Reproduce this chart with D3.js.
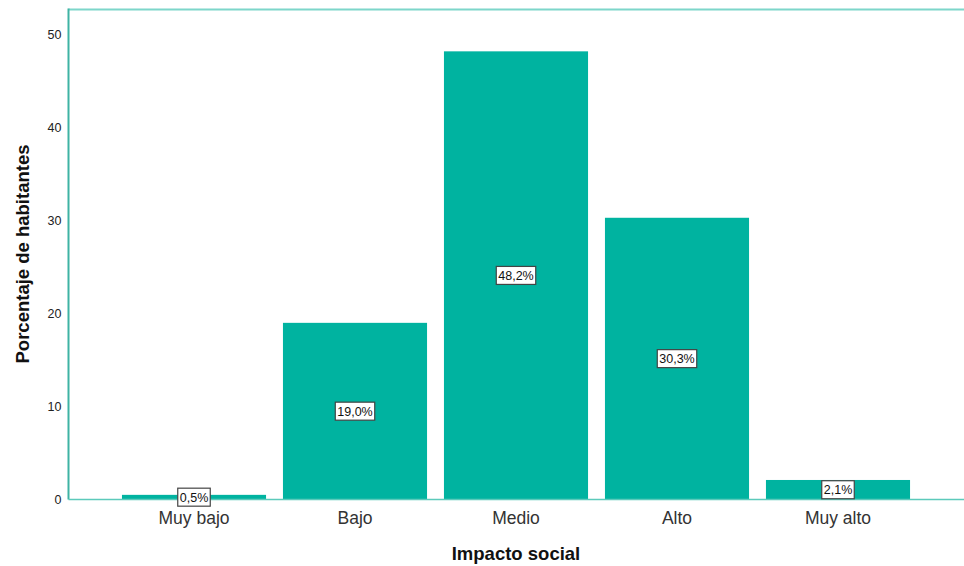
<!DOCTYPE html>
<html><head><meta charset="utf-8">
<script src="https://cdn.jsdelivr.net/npm/d3@7"></script>
<style>body{margin:0;background:#fff}svg{display:block}</style>
</head><body>
<svg id="c" width="964" height="566"></svg>
<script>
const categories = ["Muy bajo","Bajo","Medio","Alto","Muy alto"];
const values = [0.5, 19.0, 48.2, 30.3, 2.1];
const labels = ["0,5%","19,0%","48,2%","30,3%","2,1%"];
const yTicks = [0,10,20,30,40,50];

(function(){
const svg = d3.select("#c");
const pLeft = 68.5, pRight = 964, pTop = 9.5, pBottom = 499.5;
const y = d3.scaleLinear().domain([0, 52.7]).range([pBottom, pTop]);
const x = d3.scaleBand().domain(categories).range([113.5, 918.5]).paddingInner(0.105).paddingOuter(0.0525);
const teal = "#00b3a0";
const font = "Liberation Sans, Arial, sans-serif";

// bars
svg.selectAll("rect.bar").data(values).join("rect")
  .attr("class","bar")
  .attr("x",(d,i)=>x(categories[i]))
  .attr("width",x.bandwidth())
  .attr("y",d=>y(d))
  .attr("height",d=>pBottom-y(d))
  .attr("fill",teal);

// frame lines
svg.append("line").attr("x1",pLeft).attr("x2",pRight).attr("y1",pTop).attr("y2",pTop)
  .attr("stroke","#7dd6ca").attr("stroke-width",2);
svg.append("line").attr("x1",pLeft).attr("x2",pLeft).attr("y1",pTop-1).attr("y2",pBottom)
  .attr("stroke","#3fb3a4").attr("stroke-width",2);
svg.append("line").attr("x1",pLeft).attr("x2",pRight).attr("y1",pBottom).attr("y2",pBottom)
  .attr("stroke","#5ccabb").attr("stroke-width",1.5);

// y axis
const ya = d3.axisLeft(y).tickValues(yTicks).tickSize(0).tickPadding(7).tickFormat(d3.format("d"));
const yg = svg.append("g").attr("transform",`translate(${pLeft},0)`).call(ya);
yg.select(".domain").remove();
yg.selectAll("text").attr("font-family",font).attr("font-size",12.5).attr("fill","#222");

// x axis
const xa = d3.axisBottom(x).tickSize(0).tickPadding(12);
const xg = svg.append("g").attr("transform",`translate(0,${pBottom})`).call(xa);
xg.select(".domain").remove();
xg.selectAll("text").attr("font-family",font).attr("font-size",17.5).attr("fill","#333");

// value labels
const lg = svg.selectAll("g.lab").data(values).join("g").attr("class","lab")
  .attr("transform",(d,i)=>`translate(${x(categories[i])+x.bandwidth()/2},${y(d/2)})`);
lg.each(function(d,i){
  const g = d3.select(this);
  const t = g.append("text").text(labels[i]).attr("text-anchor","middle").attr("dy","0.36em")
    .attr("font-family",font).attr("font-size",12.5).attr("fill","#111");
  const bb = t.node().getBBox();
  g.insert("rect","text").attr("x",bb.x-2).attr("y",-9).attr("width",bb.width+4).attr("height",18)
    .attr("fill","#fff").attr("stroke","#444").attr("stroke-width",1.2);
});

// titles
svg.append("text").attr("x",516).attr("y",560).attr("text-anchor","middle")
  .attr("font-family",font).attr("font-size",18.5).attr("font-weight","bold").attr("fill","#111")
  .text("Impacto social");
svg.append("text").attr("transform","translate(29,254) rotate(-90)").attr("text-anchor","middle")
  .attr("font-family",font).attr("font-size",18.5).attr("font-weight","bold").attr("fill","#111")
  .text("Porcentaje de habitantes");
})();
</script>
</body></html>
